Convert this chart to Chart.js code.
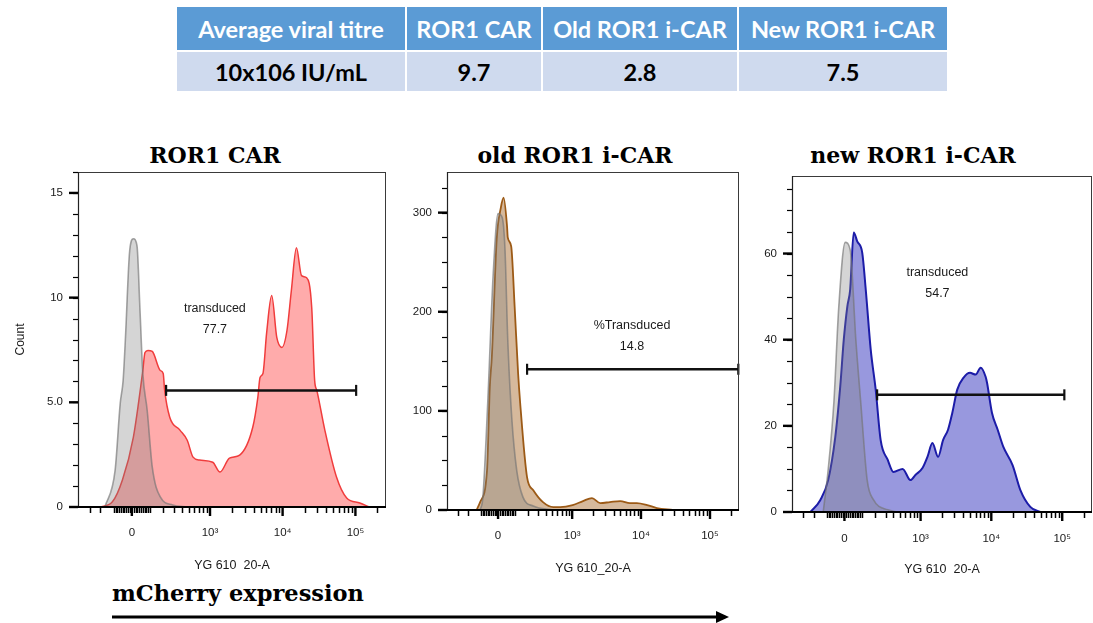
<!DOCTYPE html>
<html>
<head>
<meta charset="utf-8">
<script src="https://cdn.jsdelivr.net/npm/chart.js@4.4.1/dist/chart.umd.min.js"></script>
<style>
  body { margin: 0; width: 1093px; height: 623px; background: #fff; position: relative; overflow: hidden; font-family: 'Liberation Sans', Arial, sans-serif; }
  #titre { position: absolute; left: 175px; top: 5px; width: 772px; table-layout: fixed; border-collapse: collapse; font-family: Lato, sans-serif; font-weight: 700; font-size: 23.5px; }
  #titre td { border: 2px solid #fff; text-align: center; padding: 0; white-space: nowrap; }
  #titre tr.head td { background: #5b9bd5; color: #fff; height: 43px; }
  #titre tr.vals td { background: #cfdaee; color: #000; height: 39px; }
  .ptitle { position: absolute; top: 144px; font-family: 'DejaVu Serif', serif; font-weight: 700; font-size: 22px; line-height: 22px; transform: translateX(-50%); white-space: nowrap; }
  .panel { position: absolute; top: 165px; }
  #axisNote { position: absolute; left: 112px; top: 582px; font-family: 'DejaVu Serif', serif; font-weight: 700; font-size: 22.5px; line-height: 22px; }
  #arrow { position: absolute; left: 0; top: 0; }
</style>
</head>
<body>
<table id="titre"><colgroup><col style="width:230px"><col style="width:136px"><col style="width:196px"><col style="width:210px"></colgroup></table>
<div class="ptitle" style="left:215px">ROR1 CAR</div>
<div class="ptitle" style="left:575px">old ROR1 i-CAR</div>
<div class="ptitle" style="left:913px">new ROR1 i-CAR</div>
<div class="panel" style="left:0;width:392px;height:410px"><canvas id="p1"></canvas></div>
<div class="panel" style="left:392px;width:350px;height:414px"><canvas id="p2"></canvas></div>
<div class="panel" style="left:742px;width:351px;height:415px"><canvas id="p3"></canvas></div>
<div id="axisNote">mCherry expression</div>
<svg id="arrow" width="1093" height="623">
  <line x1="112" y1="617" x2="718" y2="617" stroke="#000" stroke-width="3"/>
  <polygon points="716,611 729,617 716,623" fill="#000"/>
</svg>

<script>
// viral titre table
const titreHeader = ['Average viral titre', 'ROR1 CAR', 'Old ROR1 i-CAR', 'New ROR1 i-CAR'];
const titreRow = ['10x106 IU/mL', '9.7', '2.8', '7.5'];

// histogram x positions are in biexponential display units (decades)
const rorCarPos = [1.49,1.66,1.80,1.95,2.08,2.11,2.15,2.21,2.32,2.36,2.38,2.45,2.59,2.69,2.77,2.86,3.04,3.14,3.27,3.41,3.59,3.66,3.69,3.73,3.78,3.85,3.92,3.99,4.06,4.12,4.19,4.26,4.33,4.40,4.44,4.47,4.58,4.74,4.88,5.06,5.19];
const rorCarCount = [0,0.24,1.29,3.33,6.52,7.38,7.48,7.43,6.52,6.38,5.57,4.29,3.67,3.19,2.38,2.24,2.14,1.67,2.33,2.48,3.81,5.24,6.19,6.38,8.29,10.10,8.10,7.62,8.43,10.33,12.38,11.05,10.95,9.52,6.05,5.57,3.67,1.43,0.43,0.19,0];
const rorCarCtrlPos = [1.56,1.70,1.77,1.81,1.84,1.90,1.95,2.00,2.04,2.08,2.14,2.21,2.32,2.49,2.69];
const rorCarCtrlCount = [0,1.76,4.95,6.05,7.95,12.24,12.81,12.48,9.52,6.38,4.62,1.90,0.48,0.10,0];

const oldPos = [1.62,1.67,1.77,1.81,1.84,1.91,1.97,2.01,2.06,2.07,2.12,2.17,2.22,2.25,2.35,2.44,2.58,2.73,2.83,3.01,3.16,3.29,3.41,3.55,3.70,3.84,3.94,4.09,4.23,4.46];
const oldCount = [0,8,40,124,155,273,305,315,286,275,266,205,138,108,33,20,8,3,3,5,9,12,7,8,9,7,7,5,2,0];
const oldCtrlPos = [1.67,1.71,1.78,1.86,1.93,1.99,2.03,2.07,2.13,2.20,2.29,2.44,2.73];
const oldCtrlCount = [0,13,108,239,299,295,263,172,91,40,13,4,0];

const newPos = [1.45,1.59,1.70,1.80,1.87,1.92,1.97,2.01,2.06,2.11,2.18,2.23,2.30,2.37,2.44,2.54,2.62,2.75,2.86,2.93,3.03,3.10,3.17,3.25,3.32,3.39,3.45,3.52,3.61,3.70,3.78,3.85,3.92,3.94,4.01,4.09,4.17,4.30,4.41,4.55,4.69];
const newCount = [0,2.8,7.4,17.4,29.1,40.0,47.7,51.6,64.9,62.8,60.2,51.6,37.7,28.4,16.7,12.1,9.3,10.0,7.4,8.6,10.2,12.8,16.0,12.8,16.7,19.1,23.0,28.4,31.2,32.3,31.9,33.5,31.4,30.0,23.0,19.1,15.1,10.9,5.1,1.2,0];
const newCtrlPos = [1.63,1.70,1.78,1.85,1.94,2.01,2.09,2.16,2.25,2.34,2.54,2.68];
const newCtrlCount = [0,9.8,25.3,47.7,62.6,60.9,40.0,25.3,7.4,2.8,0.5,0];

// transduced gates: start/end position, height, label
const gateLo = [2.40, 2.35, 2.39];
const gateHi = [5.01, 5.41, 5.03];
const gateLevel = [5.57, 142, 27.2];
const gateName = ['transduced', '%Transduced', 'transduced'];
const gatePct = ['77.7', '14.8', '54.7'];
const gateTextPos = [3.07, 3.87, 3.24];
const gateTextCount = [[9.48, 8.48], [186, 165], [55.6, 50.7]];

// axes
const xMajor = [0, 1e3, 1e4, 1e5];
const xMajorLabels = ['0', '10³', '10⁴', '10⁵'];
const yMajor = [[0, 5, 10, 15], [0, 100, 200, 300], [0, 20, 40, 60]];
const yMajorLabels = [['0', '5.0', '10', '15'], ['0', '100', '200', '300'], ['0', '20', '40', '60']];
const yMinorStep = [1, 25, 5];
const yMax = [16, 341, 78];
const xTitles = ['YG 610  20-A', 'YG 610_20-A', 'YG 610  20-A'];

document.getElementById('titre').insertAdjacentHTML('beforeend',
  '<tr class="head">' + titreHeader.map(t => `<td>${t}</td>`).join('') + '</tr>' +
  '<tr class="vals">' + titreRow.map(t => `<td>${t}</td>`).join('') + '</tr>');

const W = 85;
const biex = v => Math.log10(W) + Math.asinh(v / (2 * W)) / Math.LN10;

const xMinor = [-300, -200];
for (let v = -100; v <= 100; v += 10) if (v) xMinor.push(v);
[100, 1000, 10000, 100000].forEach(d => { for (let k = 2; k <= 9; k++) if (d * k < 3e5) xMinor.push(d * k); });

const pts = (xs, ys) => xs.map((x, i) => ({ x, y: ys[i] }));

const flowDecor = {
  id: 'flowDecor',
  afterDraw(chart, args, o) {
    const { ctx, chartArea: a, scales: { x, y } } = chart;
    const line = (x1, y1, x2, y2, w, c) => {
      ctx.beginPath(); ctx.lineWidth = w; ctx.strokeStyle = c || '#000';
      ctx.moveTo(x1, y1); ctx.lineTo(x2, y2); ctx.stroke();
    };
    ctx.save();
    // plot frame
    line(a.left, a.top + 0.5, a.right, a.top + 0.5, 1, '#3a3a3a');
    line(a.right - 0.5, a.top, a.right - 0.5, a.bottom, 1, '#3a3a3a');
    line(a.left + 0.5, a.top, a.left + 0.5, a.bottom, 1.2, '#222');
    line(a.left - 9, a.bottom, a.right, a.bottom, 2.2);
    // x tick marks
    xMinor.forEach(v => {
      const px = Math.round(x.getPixelForValue(biex(v))) + 0.5;
      line(px, a.bottom, px, a.bottom + 6, 1.5);
    });
    xMajor.forEach(v => {
      const px = x.getPixelForValue(biex(v));
      line(px, a.bottom, px, a.bottom + 9, 2.4);
    });
    // y tick marks
    for (let v = o.step; v <= o.max; v += o.step) {
      const py = Math.round(y.getPixelForValue(v)) + 0.5;
      line(a.left - 5, py, a.left, py, 1.2);
    }
    o.major.forEach(v => {
      const py = y.getPixelForValue(v);
      line(a.left - 9, py, a.left, py, 2.4);
    });
    // gate label
    ctx.fillStyle = '#1a1a1a';
    ctx.font = '12.5px "Liberation Sans", Arial, sans-serif';
    ctx.textAlign = 'center';
    ctx.textBaseline = 'middle';
    const gx = x.getPixelForValue(o.textPos);
    ctx.fillText(o.name, gx, y.getPixelForValue(o.textCount[0]));
    ctx.fillText(o.pct, gx, y.getPixelForValue(o.textCount[1]));
    ctx.restore();
  }
};

function makePanel(id, i, sample, ctrl, colors, box) {
  new Chart(document.getElementById(id), {
    type: 'line',
    data: {
      datasets: [
        {
          data: [{ x: gateLo[i], y: gateLevel[i] }, { x: gateHi[i], y: gateLevel[i] }],
          borderColor: '#111', borderWidth: 2.5, fill: false,
          pointStyle: 'line', rotation: 90, pointRadius: 5.5, pointBorderWidth: 2.2,
          pointBorderColor: '#111', clip: false, order: 0
        },
        {
          data: ctrl, borderColor: 'rgba(115,115,115,0.65)', backgroundColor: 'rgba(128,128,128,0.33)',
          borderWidth: 1.6, fill: 'origin', pointRadius: 0, cubicInterpolationMode: 'monotone', order: 1
        },
        {
          data: sample, borderColor: colors[0], backgroundColor: colors[1],
          borderWidth: colors[2], fill: 'origin', pointRadius: 0, cubicInterpolationMode: 'monotone', order: 2
        }
      ]
    },
    options: {
      responsive: true, maintainAspectRatio: false, animation: false,
      layout: { autoPadding: false, padding: { top: box.top, right: box.right, left: 0, bottom: 0 } },
      plugins: {
        legend: { display: false }, tooltip: { enabled: false },
        flowDecor: {
          step: yMinorStep[i], max: yMax[i], major: yMajor[i],
          name: gateName[i], pct: gatePct[i], textPos: gateTextPos[i], textCount: gateTextCount[i]
        }
      },
      scales: {
        x: {
          type: 'linear', min: 1.19, max: 5.42,
          afterBuildTicks: s => { s.ticks = xMajor.map(v => ({ value: biex(v) })); },
          afterFit: s => { s.height = box.xh; s.paddingLeft = 0; s.paddingRight = 0; },
          grid: { display: false, drawTicks: false },
          border: { display: false },
          ticks: {
            autoSkip: false, maxRotation: 0, padding: box.xpad, color: '#1a1a1a',
            font: { family: 'Liberation Sans', size: 11.5 },
            callback: (v, k) => xMajorLabels[k]
          },
          title: {
            display: true, text: xTitles[i], color: '#1a1a1a',
            font: { family: 'Liberation Sans', size: 12.5 }, padding: { top: 0, bottom: box.tpad }
          }
        },
        y: {
          min: 0, max: yMax[i],
          afterBuildTicks: s => { s.ticks = yMajor[i].map(v => ({ value: v })); },
          afterFit: s => { s.width = box.yw; s.paddingTop = 0; s.paddingBottom = 0; },
          grid: { display: false, drawTicks: false },
          border: { display: false },
          ticks: {
            autoSkip: false, padding: 15, color: '#1a1a1a',
            font: { family: 'Liberation Sans', size: 11.5 },
            callback: (v, k) => yMajorLabels[i][k]
          },
          title: {
            display: i === 0, text: 'Count', color: '#1a1a1a',
            font: { family: 'Liberation Sans', size: 12 }, padding: { top: 13, bottom: 0 }
          }
        }
      }
    },
    plugins: [flowDecor]
  });
}

makePanel('p1', 0, pts(rorCarPos, rorCarCount), pts(rorCarCtrlPos, rorCarCtrlCount),
  ['#f03c3c', 'rgba(255,80,80,0.48)', 1.5], { top: 7, right: 6, xh: 68, yw: 78, xpad: 19, tpad: 1.8 });
makePanel('p2', 1, pts(oldPos, oldCount), pts(oldCtrlPos, oldCtrlCount),
  ['#9c5a16', 'rgba(165,100,35,0.45)', 1.8], { top: 7, right: 3, xh: 69, yw: 55, xpad: 19, tpad: 2.8 });
makePanel('p3', 2, pts(newPos, newCount), pts(newCtrlPos, newCtrlCount),
  ['#1c1ca8', 'rgba(50,50,190,0.5)', 2], { top: 11, right: 1, xh: 68, yw: 50, xpad: 20, tpad: 2.8 });
</script>
</body>
</html>
